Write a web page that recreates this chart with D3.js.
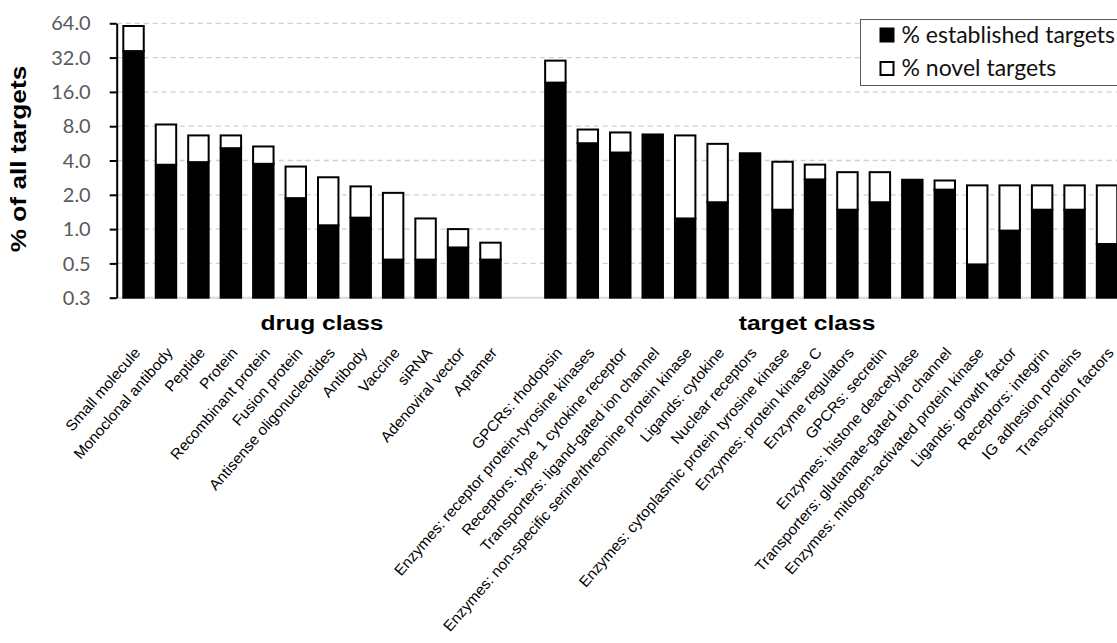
<!DOCTYPE html>
<html>
<head>
<meta charset="utf-8">
<script src="https://cdn.jsdelivr.net/npm/d3@7"></script>
<style>
  html, body { margin: 0; padding: 0; background: #fff; }
  svg { display: block; }
</style>
</head>
<body>
<svg id="chart" width="1117" height="643"></svg>
<script>
// Share of all targets (%) by drug class and by target class,
// split into established and novel targets.
const drugClasses = [
  "Small molecule", "Monoclonal antibody", "Peptide", "Protein",
  "Recombinant protein", "Fusion protein", "Antisense oligonucleotides",
  "Antibody", "Vaccine", "siRNA", "Adenoviral vector", "Aptamer"
];
const drugEstablished = [36.5, 3.67, 3.87, 5.13, 3.74, 1.87, 1.08, 1.26, 0.54, 0.54, 0.69, 0.54];
const drugNovel       = [24.1, 4.61, 2.77, 1.51, 1.57, 1.67, 1.77, 1.11, 1.54, 0.70, 0.31, 0.22];

const targetClasses = [
  "GPCRs: rhodopsin",
  "Enzymes: receptor protein-tyrosine kinases",
  "Receptors: type 1 cytokine receptor",
  "Transporters: ligand-gated ion channel",
  "Enzymes: non-specific serine/threonine protein kinase",
  "Ligands: cytokine",
  "Nuclear receptors",
  "Enzymes: cytoplasmic protein tyrosine kinase",
  "Enzymes: protein kinase C",
  "Enzyme regulators",
  "GPCRs: secretin",
  "Enzymes: histone deacetylase",
  "Transporters: glutamate-gated ion channel",
  "Enzymes: mitogen-activated protein kinase",
  "Ligands: growth factor",
  "Receptors: integrin",
  "IG adhesion proteins",
  "Transcription factors"
];
const targetEstablished = [19.3, 5.67, 4.70, 6.77, 1.24, 1.72, 4.63, 1.48, 2.73, 1.48, 1.72, 2.71, 2.22, 0.49, 0.97, 1.48, 1.48, 0.74];
const targetNovel       = [10.8, 1.81, 2.35, 0.00, 5.40, 3.88, 0.00, 2.42, 0.95, 1.68, 1.44, 0.00, 0.45, 1.93, 1.45, 0.94, 0.94, 1.68];

const yTickValues = [0.25, 0.5, 1, 2, 4, 8, 16, 32, 64];
const seriesNames = ["% established targets", "% novel targets"];

// one empty slot separates the two groups on the shared band axis
const GAP = "__gap__";
const rows = [
  ...drugClasses.map((c, i) => ({ key: c, est: drugEstablished[i], nov: drugNovel[i] })),
  ...targetClasses.map((c, i) => ({ key: c, est: targetEstablished[i], nov: targetNovel[i] }))
];
const domain = [...drugClasses, GAP, ...targetClasses];

const svg = d3.select("#chart");
const W = 1117;

const x0 = 117.3, step = 32.45;
const x = d3.scaleBand()
  .domain(domain)
  .range([x0, x0 + step * domain.length])
  .paddingInner(0.37)
  .paddingOuter(0.185);

const y = d3.scaleLog().base(2)
  .domain([0.25, 64])
  .range([297.7, 23.3]);

const axisX = 116.7;

// horizontal dashed gridlines
svg.append("g").selectAll("line")
  .data(yTickValues.slice(1))
  .join("line")
  .attr("x1", axisX).attr("x2", W)
  .attr("y1", d => y(d)).attr("y2", d => y(d))
  .attr("stroke", "#d0d0d0")
  .attr("stroke-width", 1.3)
  .attr("stroke-dasharray", "5,4");

// category baseline
svg.append("line")
  .attr("x1", axisX).attr("x2", W)
  .attr("y1", y(0.25)).attr("y2", y(0.25))
  .attr("stroke", "#d9d9d9")
  .attr("stroke-width", 2);

// stacked bars: established from the floor, novel on top
const bars = svg.append("g");
const bw = x.bandwidth();
bars.selectAll("rect.est")
  .data(rows)
  .join("rect")
  .attr("class", "est")
  .attr("x", d => x(d.key))
  .attr("width", bw)
  .attr("y", d => y(d.est))
  .attr("height", d => y(0.25) - y(d.est))
  .attr("fill", "#000")
  .attr("stroke", "#000")
  .attr("stroke-width", 2);

bars.selectAll("rect.nov")
  .data(rows.filter(d => d.nov > 0))
  .join("rect")
  .attr("class", "nov")
  .attr("x", d => x(d.key))
  .attr("width", bw)
  .attr("y", d => y(d.est + d.nov))
  .attr("height", d => y(d.est) - y(d.est + d.nov))
  .attr("fill", "#fff")
  .attr("stroke", "#000")
  .attr("stroke-width", 2);

// y axis
const yAxis = svg.append("g")
  .attr("transform", `translate(${axisX},0)`)
  .call(d3.axisLeft(y)
    .tickValues(yTickValues)
    .tickFormat(d3.format(".1f"))
    .tickSize(7)
    .tickSizeOuter(0));
yAxis.select(".domain").attr("stroke", "#000").attr("stroke-width", 2);
yAxis.selectAll(".tick line").attr("stroke", "#000").attr("stroke-width", 2);
yAxis.selectAll(".tick text")
  .attr("x", null)
  .attr("dy", "0.36em")
  .attr("transform", "translate(-26,0) scale(1.08,1)")
  .attr("fill", "#595959")
  .style("font-family", "Lato, 'Open Sans', sans-serif")
  .style("font-size", "18.5px");

// category labels, slanted
const xAxis = svg.append("g")
  .attr("transform", `translate(0,${y(0.25)})`)
  .call(d3.axisBottom(x)
    .tickSize(0)
    .tickFormat(d => d === GAP ? "" : d));
xAxis.select(".domain").remove();
xAxis.selectAll(".tick text")
  .attr("y", null).attr("dy", null)
  .attr("text-anchor", "end")
  .attr("transform", "translate(7.5,55.5) rotate(-49) scale(1.03,1)")
  .attr("fill", "#000")
  .style("font-family", "'Liberation Sans', Arial, sans-serif")
  .style("font-size", "15px");

// axis titles
const boldFont = "'Liberation Sans', Arial, sans-serif";
svg.append("text")
  .attr("transform", "translate(26,159) rotate(-90) scale(1.22,1)")
  .attr("text-anchor", "middle")
  .style("font-family", boldFont)
  .style("font-weight", "bold")
  .style("font-size", "21.5px")
  .text("% of all targets");

svg.append("text")
  .attr("transform", "translate(322,330) scale(1.2,1)")
  .attr("text-anchor", "middle")
  .style("font-family", boldFont)
  .style("font-weight", "bold")
  .style("font-size", "20.5px")
  .text("drug class");

svg.append("text")
  .attr("transform", "translate(807,330) scale(1.2,1)")
  .attr("text-anchor", "middle")
  .style("font-family", boldFont)
  .style("font-weight", "bold")
  .style("font-size", "20.5px")
  .text("target class");

// legend
const legend = svg.append("g").attr("transform", "translate(860.5,19.5)");
legend.append("rect")
  .attr("width", 290).attr("height", 66)
  .attr("fill", "#fff")
  .attr("stroke", "#595959")
  .attr("stroke-width", 1);
const items = legend.selectAll("g.item")
  .data(seriesNames)
  .join("g")
  .attr("class", "item")
  .attr("transform", (d, i) => `translate(20,${9 + i * 33.5})`);
items.append("rect")
  .attr("width", 13).attr("height", 13)
  .attr("fill", (d, i) => i === 0 ? "#000" : "#fff")
  .attr("stroke", "#000")
  .attr("stroke-width", 2);
items.append("text")
  .attr("x", 21).attr("y", 14)
  .attr("fill", "#111")
  .style("font-family", "Lato, 'Open Sans', sans-serif")
  .style("font-size", "23px")
  .text(d => d);
</script>
</body>
</html>
